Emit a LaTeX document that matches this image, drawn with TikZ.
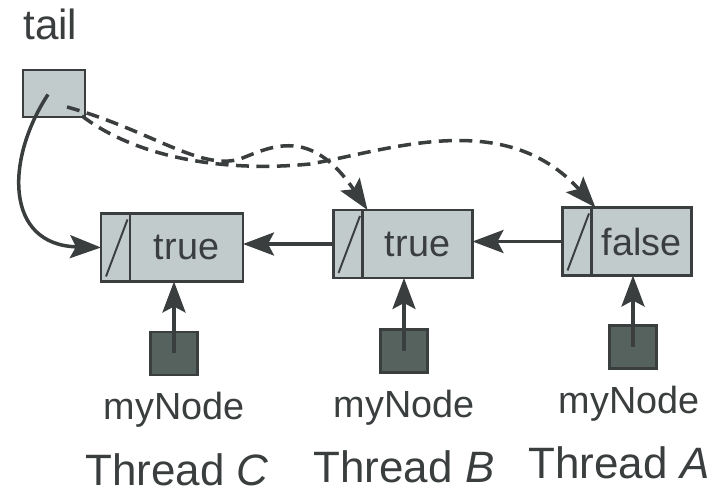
\documentclass[tikz,border=0pt]{standalone}
\usepackage{fontspec}
\setmainfont{Liberation Sans}
\usetikzlibrary{calc,arrows.meta,positioning}
\definecolor{cellfill}{RGB}{194,203,203}
\definecolor{ownfill}{RGB}{86,98,94}
\definecolor{ink}{RGB}{58,62,62}
\tikzset{
  cell/.style={draw=ink, line width=1.2pt, fill=cellfill, outer sep=0pt, inner sep=0pt,
    minimum height=1.36cm, text=ink, font=\fontsize{21.5}{24}\selectfont},
  ptr/.style={cell, minimum width=0.58cm,
    path picture={\draw[ink, line width=1.1pt]
      ([shift={(0.1,0.1)}]path picture bounding box.south west) --
      ([shift={(-0.05,-0.12)}]path picture bounding box.north east);}},
  tailbox/.style={cell, minimum width=1.24cm, minimum height=0.94cm},
  own/.style={draw=ink, line width=1.2pt, fill=ownfill, outer sep=0pt,
    minimum width=0.94cm, minimum height=0.86cm, inner sep=0pt},
  lbl/.style={inner sep=0pt, text=ink, font=\fontsize{21.5}{24}\selectfont},
  big/.style={inner sep=0pt, text=ink, font=\fontsize{25}{28}\selectfont},
  arr/.style={-{Stealth[length=0.62cm,width=0.46cm,inset=0.12cm]}, line width=2pt, draw=ink},
  darr/.style={arr, dash pattern=on 0.26cm off 0.15cm}
}

\begin{document}
\begin{tikzpicture}
  \useasboundingbox (0,0) rectangle (14.26,-9.94);

  % shared tail field
  \node[tailbox] (tail) at (1.08,-1.87) {};
  \node[big, above right=0.6cm and 0cm of tail.north west, font=\fontsize{24}{28}\selectfont] (taillbl) {tail};

  % queue nodes
  \node[ptr] (cP) at (2.31,-4.95) {};
  \node[cell, right=0pt of cP, minimum width=2.26cm] (cV) {true};
  \node[ptr] (bP) at (6.96,-4.88) {};
  \node[cell, right=0pt of bP, minimum width=2.2cm] (bV) {true};
  \node[ptr] (aP) at (11.54,-4.83) {};
  \node[cell, right=0pt of aP, minimum width=2.0cm] (aV) {false};

  % per-thread local references
  \node[own] (cO) at (3.48,-7.07) {};
  \node[own] (bO) at (8.08,-7.02) {};
  \node[own] (aO) at (12.66,-6.94) {};
  \node[lbl, below=0.34cm of cO] (cM) {myNode};
  \node[lbl, below=0.34cm of bO] (bM) {myNode};
  \node[lbl, below=0.34cm of aO, xshift=-0.08cm] (aM) {myNode};
  \node[big, below=0.5cm of cM, xshift=0.06cm] (cT) {Thread \textit{C}};
  \node[big, below=0.5cm of bM] (bT) {Thread \textit{B}};
  \node[big, below=0.5cm of aM, xshift=-0.2cm] (aT) {Thread \textit{A}};

  \coordinate (tailC) at ($(tail.center)+(-0.12,-0.02)$);
  \coordinate (tailB) at ($(tail.center)+(0.26,-0.27)$);
  \coordinate (tailA) at ($(tail.center)+(0.56,-0.45)$);
  \coordinate (bTop) at ($(bV.north west)+(0.1,0)$);
  \coordinate (aTop) at ($(aV.north west)+(0.08,0)$);

  \draw[arr] (aP.west) -- (aP.west -| bV.east);
  \draw[arr] (bP.west) -- (bP.west -| cV.east);
  \draw[arr] (cO.center) -- (cO.center |- cV.south);
  \draw[arr] (bO.center) -- (bO.center |- bV.south);
  \draw[arr] (aO.center) -- (aO.center |- aV.south);

  \draw[arr] (tailC) .. controls (0.1,-3.2) and (0.1,-4.9) .. (cP.west);
  \draw[darr] (tailB) .. controls (3.0,-2.6) and (4.0,-3.42) .. (4.8,-3.18)
    .. controls (5.4,-2.95) and (6.2,-2.5) .. (bTop);
  \draw[darr] (tailA) .. controls (2.8,-3.2) and (4.6,-3.44) .. (6.2,-3.28)
    .. controls (7.8,-3.0) and (10.1,-2.15) .. (aTop);
\end{tikzpicture}
\end{document}
